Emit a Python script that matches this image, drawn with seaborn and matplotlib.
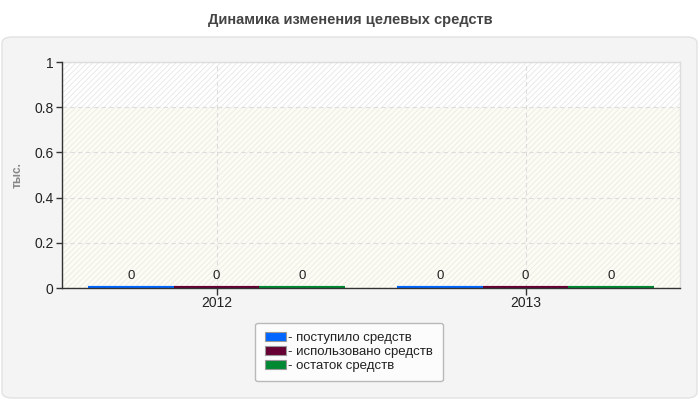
import matplotlib
matplotlib.use('Agg')
import pandas as pd
import matplotlib.pyplot as plt
import seaborn as sns
from matplotlib.patches import FancyBboxPatch, Patch

# данные
years = ['2012', '2013']
series = ['поступило средств', 'использовано средств', 'остаток средств']
received = [0, 0]
used = [0, 0]
remaining = [0, 0]
colors = ['#0066ff', '#660033', '#008833']

rows = []
for i, y in enumerate(years):
    rows.append((y, series[0], received[i]))
    rows.append((y, series[1], used[i]))
    rows.append((y, series[2], remaining[i]))
df = pd.DataFrame(rows, columns=['year', 'series', 'value'])

sns.set_style('white')
plt.rcParams['font.family'] = ['Liberation Sans', 'DejaVu Sans']
plt.rcParams['hatch.linewidth'] = 0.6

fig = plt.figure(figsize=(7, 4), dpi=100)

# серая подложка
panel = FancyBboxPatch((2 / 700, 2 / 400), 695 / 700, 361 / 400,
                       boxstyle='round,pad=0,rounding_size=0.015',
                       transform=fig.transFigure, facecolor='#f4f4f4',
                       edgecolor='#e2e2e2', linewidth=1, zorder=-5)
fig.patches.append(panel)

fig.text(0.5, 0.95, 'Динамика изменения целевых средств', ha='center', va='center',
         fontsize=10.5, fontweight='bold', color='#444444')

ax = fig.add_axes([62 / 700, 1 - 288 / 400, 618 / 700, 226 / 400])
ax.set_zorder(2)
ax.set_facecolor('white')

sns.barplot(data=df, x='year', y='value', hue='series', palette=colors,
            saturation=1, width=0.83, ax=ax, legend=False, zorder=3)

# нулевые столбики видны как тонкие цветные полоски
for p, c in zip(ax.patches, [colors[0]] * 2 + [colors[1]] * 2 + [colors[2]] * 2):
    p.set_facecolor(c)
    p.set_edgecolor(c)
    p.set_linewidth(3)

for c in ax.containers:
    ax.bar_label(c, fmt='%g', padding=4, fontsize=9.5, color='#222222')

ax.set_ylim(0, 1)
ax.set_yticks([0, 0.2, 0.4, 0.6, 0.8, 1])
ax.set_yticklabels(['0', '0.2', '0.4', '0.6', '0.8', '1'])

# фон с штриховкой
ax.axhspan(0.8, 1, facecolor='white', edgecolor='#e6e6e6', hatch='//////', linewidth=0, zorder=0)
ax.axhspan(0, 0.8, facecolor='#fcfcf4', edgecolor='#ebebe3', hatch='//////', linewidth=0, zorder=0)

ax.grid(True, linestyle=(0, (4, 3)), color='#dddddd', linewidth=0.8)
ax.set_axisbelow(False)
for gl in ax.get_xgridlines() + ax.get_ygridlines():
    gl.set_zorder(1)

ax.set_xlabel('')
ax.set_ylabel('тыс.', fontsize=8.5, fontweight='bold', color='#888888')
ax.yaxis.set_label_coords(-38 / 618, 0.5)

for s in ['top', 'right']:
    ax.spines[s].set_color('#dddddd')
    ax.spines[s].set_linewidth(1)
for s in ['left', 'bottom']:
    ax.spines[s].set_color('#333333')
    ax.spines[s].set_linewidth(1)
    ax.spines[s].set_zorder(4)

ax.tick_params(axis='y', direction='out', length=4, width=1, color='#333333',
               labelsize=10, labelcolor='#222222', pad=2, left=True)
ax.tick_params(axis='x', direction='out', length=5, width=1, color='#333333',
               labelsize=10, labelcolor='#222222', pad=1, bottom=True)

handles = [Patch(facecolor=c, edgecolor='#999999', linewidth=0.8) for c in colors]
labels = ['- ' + s for s in series]
leg = fig.legend(handles, labels, loc='center', bbox_to_anchor=(349 / 700, 1 - 352 / 400),
                 fontsize=9.5, frameon=True, fancybox=True, handlelength=1.6,
                 handleheight=0.6, handletextpad=0.2, labelspacing=0.15,
                 borderpad=0.7, borderaxespad=0)
leg.get_frame().set_edgecolor('#aaaaaa')
leg.get_frame().set_facecolor('white')
leg.get_frame().set_linewidth(1)
for t in leg.get_texts():
    t.set_color('#222222')

fig.savefig('out.png', dpi=100)
